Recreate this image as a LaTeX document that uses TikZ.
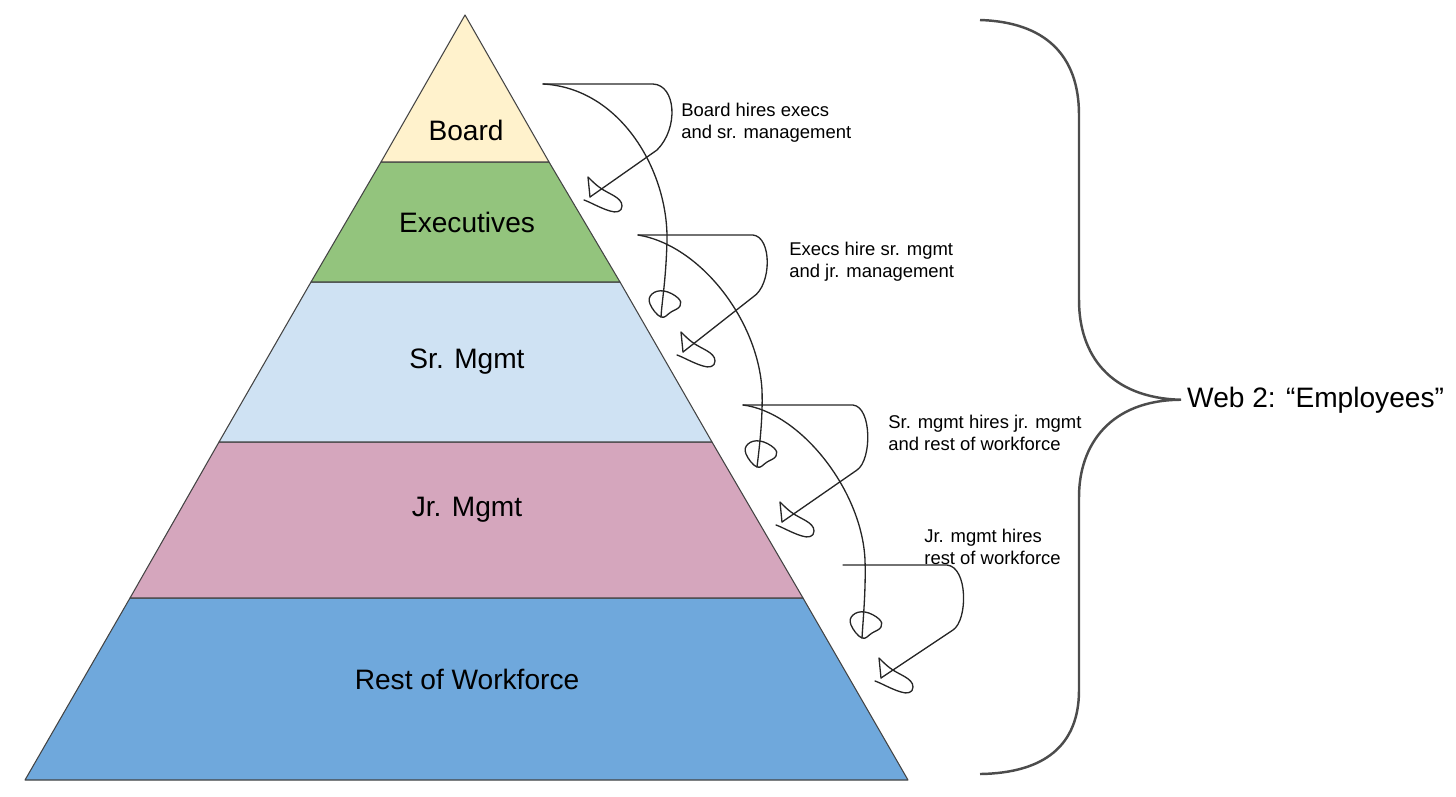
\documentclass[tikz,border=0pt]{standalone}
\usepackage{fontspec}
\setmainfont{Liberation Sans}
\definecolor{boardfill}{HTML}{FFF2CC}
\definecolor{execfill}{HTML}{93C47D}
\definecolor{srfill}{HTML}{CFE2F3}
\definecolor{jrfill}{HTML}{D5A6BD}
\definecolor{restfill}{HTML}{6FA8DC}
\definecolor{edge}{HTML}{434343}
\def\hirehead(#1){\draw[hand, shift={(#1)}] (0,0) -- (-2,-20) .. controls (2,-16) and (5,-13) .. (9,-10) .. controls (18,-3) and (32,0) .. (32,9) .. controls (32,15) and (26,16) .. (20,14) .. controls (10,11) and (0,5) .. (-6,3);}
\def\hireloop(#1){\draw[hand, shift={(#1)}] plot[smooth cycle, tension=0.7] coordinates {(0,0) (-11,-13) (-9,-23) (3,-26) (17,-19) (19,-11) (10,-5)};}

\begin{document}
\begin{tikzpicture}[x=0.02cm, y=-0.02cm,
		layer/.style={draw=edge, line width=0.6pt, line join=round},
		tier/.style={font=\fontsize{16}{19}\selectfont, anchor=base},
		note/.style={font=\fontsize{10.5}{12.5}\selectfont, align=left, anchor=west, inner sep=0pt},
		hand/.style={draw=black!85, line width=0.75pt, line cap=round, line join=round},
		brace/.style={draw=black!70, line width=1.4pt}]
			%%%%% START %%%%%
			
			\useasboundingbox (0,0) rectangle (1456,796);
			
			\draw[layer, fill=restfill] (130,598) -- (803,598) -- (908,780) -- (25,780) -- cycle;
			\draw[layer, fill=jrfill] (219,442) -- (712,442) -- (803,598) -- (130,598) -- cycle;
			\draw[layer, fill=srfill] (311,282) -- (620,282) -- (712,442) -- (219,442) -- cycle;
			\draw[layer, fill=execfill] (381,162) -- (549,162) -- (620,282) -- (311,282) -- cycle;
			\draw[layer, fill=boardfill] (465,15) -- (549,162) -- (381,162) -- cycle;
			
			\node[tier] (board) at (466,140) {Board};
			\node[tier] (execs) at (467,232) {Executives};
			\node[tier] (srmgmt) at (467,368) {Sr. Mgmt};
			\node[tier] (jrmgmt) at (467,516) {Jr. Mgmt};
			\node[tier] (workforce) at (467,689) {Rest of Workforce};
			
			\node[note] (boardnote) at (681,123) {Board hires execs\\and sr. management};
			\node[note] (execnote) at (789,262) {Execs hire sr. mgmt\\and jr. management};
			\node[note] (srnote) at (888,433) {Sr. mgmt hires jr. mgmt\\and rest of workforce};
			\node[note] (jrnote) at (924,547) {Jr. mgmt hires\\rest of workforce};
			
			% board
			\coordinate (b1) at (543,84);
			\coordinate (bt) at (590,197);
			\coordinate (bl) at (661,317);
			\draw[hand] (b1) -- (653,84) .. controls (676,85) and (679,128) .. (657,150) -- (bt);
			\draw[hand] (b1) .. controls (620,88) and (668,170) .. (667,240) .. controls (666,280) and (662,300) .. (bl);
			\hirehead(bt)
			\hireloop(bl)
			
			% execs
			\coordinate (e1) at (638,235);
			\coordinate (et) at (683,352);
			\coordinate (el) at (757,467);
			\draw[hand] (e1) -- (753,235) .. controls (772,237) and (772,285) .. (753,297) -- (et);
			\draw[hand] (e1) .. controls (700,245) and (758,320) .. (762,390) .. controls (763,420) and (759,450) .. (el);
			\hirehead(et)
			\hireloop(el)
			
			% sr. mgmt
			\coordinate (s1) at (743,405);
			\coordinate (st) at (782,522);
			\coordinate (sl) at (862,638);
			\draw[hand] (s1) -- (853,405) .. controls (872,407) and (872,460) .. (857,470) -- (st);
			\draw[hand] (s1) .. controls (800,412) and (862,490) .. (865,560) .. controls (866,590) and (863,620) .. (sl);
			\hirehead(st)
			\hireloop(sl)
			
			% jr. mgmt
			\coordinate (j1) at (843,565);
			\coordinate (jt) at (881,678);
			\draw[hand] (j1) -- (947,565) .. controls (968,567) and (968,620) .. (953,630) -- (jt);
			\hirehead(jt)
			
			\node[tier, anchor=base west] (web) at (1181,407) {Web 2: “Employees”};
			\draw[brace] (980,20) .. controls (1045,22) and (1079,55) .. (1079,115) -- (1079,300)
				.. controls (1079,355) and (1110,398) .. (web.west)
				.. controls (1110,400) and (1079,445) .. (1079,497) -- (1079,690)
				.. controls (1079,745) and (1045,773) .. (980,774);
			
			%%%%% END %%%%%
		\end{tikzpicture}
\end{document}
